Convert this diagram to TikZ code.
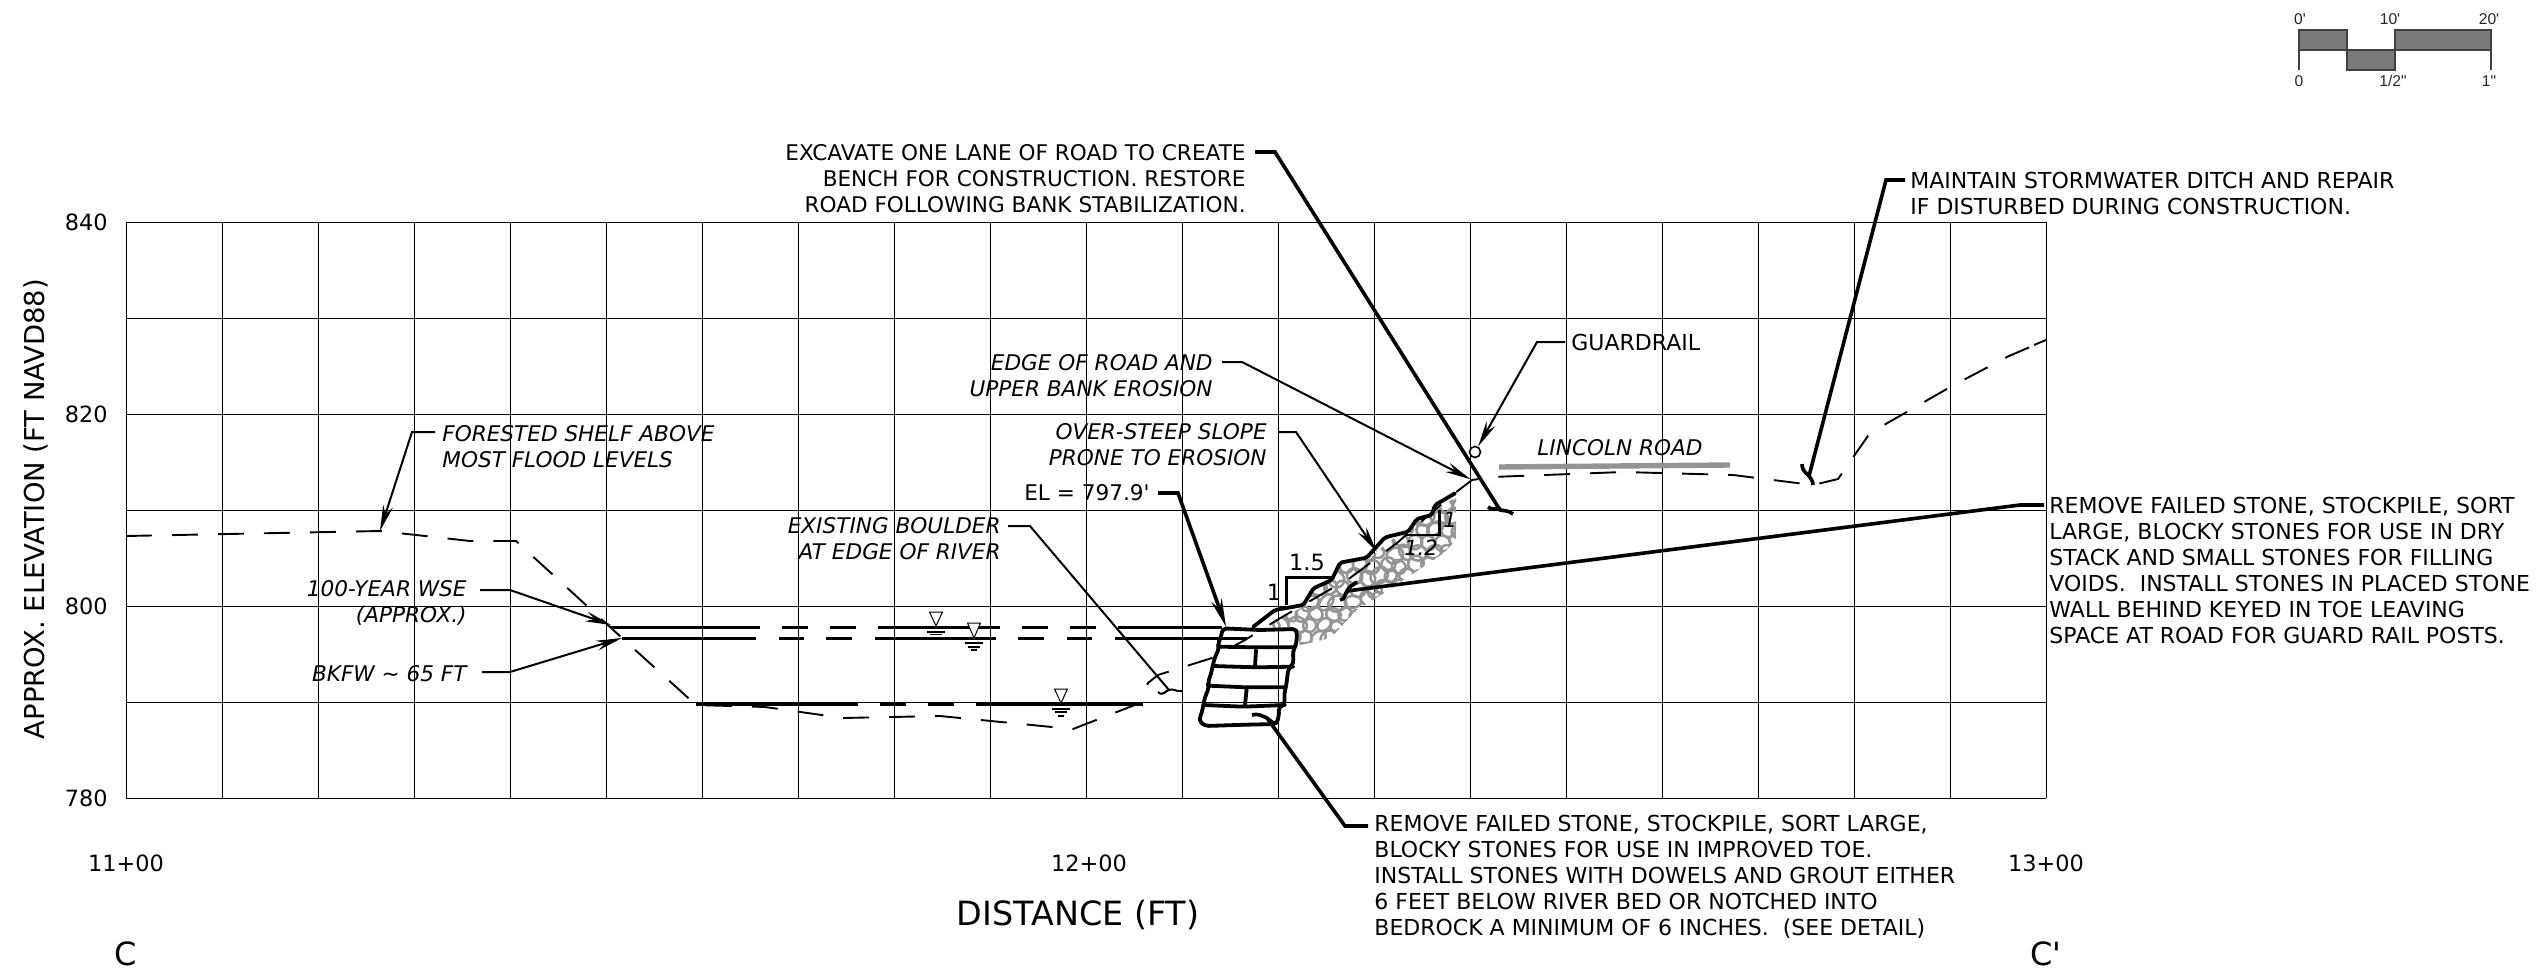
\documentclass[tikz,border=0pt]{standalone}
\usepackage{fontspec}
\setmainfont{DejaVu Sans}[Ligatures=TeXOff]
\newfontfamily\arialf{Liberation Sans}
\usetikzlibrary{arrows.meta}
\tikzset{
 rtxt/.style={inner sep=0pt,align=right,anchor=east,font=\fontsize{10.8}{13}\selectfont},
 ltxt/.style={inner sep=0pt,align=left,anchor=west,font=\fontsize{11}{13}\selectfont},
 rit/.style={inner sep=0pt,align=right,anchor=east,font=\fontsize{10.8}{13}\selectfont\itshape},
 lit/.style={inner sep=0pt,align=left,anchor=west,font=\fontsize{10.8}{13}\selectfont\itshape},
 axl/.style={inner sep=0pt,font=\fontsize{11.2}{14}\selectfont},
 gridl/.style={black,line width=0.5pt},
 ground/.style={black,line width=0.95pt,dash pattern=on 13pt off 10pt},
 wline/.style={black,line width=1.5pt},
 thin lead/.style={black,line width=1pt,-{Stealth[length=13pt,width=5pt]}},
 thin plain/.style={black,line width=1pt},
 heavy lead/.style={black,line width=1.8pt,-{Stealth[length=14pt,width=5.5pt]}},
 heavy plain/.style={black,line width=1.8pt},
 stone/.style={black,line width=1.9pt,line join=round,line cap=round,rounded corners=2pt},
 cobble/.style={black!42,line width=1.25pt},
 wsym/.style={black,line width=0.5pt},
 scalebox/.style={draw=black!75,line width=0.8pt,fill=black!52},
 scaletxt/.style={inner sep=0pt,font=\arialf\fontsize{7.8}{9}\selectfont,text=black!85},
}
\begin{document}
\begin{tikzpicture}[x=0.5pt,y=-0.5pt]
\useasboundingbox (0,0) rectangle (2540,969);
% grid
\foreach \k in {0,...,20} \draw[gridl] ({126+96*\k},222) -- ({126+96*\k},798);
\foreach \k in {0,...,6} \draw[gridl] (126,{222+96*\k}) -- (2046,{222+96*\k});
% axis labels
\node[axl,anchor=east] (y840) at (108,222) {840};
\node[axl,anchor=east] (y820) at (108,414) {820};
\node[axl,anchor=east] (y800) at (108,606) {800};
\node[axl,anchor=east] (y780) at (108,798) {780};
\node[axl] (x11) at (126,863) {11+00};
\node[axl] (x12) at (1089,863) {12+00};
\node[axl] (x13) at (2046,863) {13+00};
\node[inner sep=0pt,font=\fontsize{13.7}{16}\selectfont,rotate=90] (ylab) at (36,509) {APPROX. ELEVATION (FT NAVD88)};
\node[inner sep=0pt,font=\fontsize{16.7}{18}\selectfont] (xlab) at (1078,915) {DISTANCE (FT)};
\node[inner sep=0pt,font=\fontsize{16}{18}\selectfont] (cl) at (126,954) {C};
\node[inner sep=0pt,font=\fontsize{16}{18}\selectfont] (cr) at (2046,954) {C'};
% scale bar
\draw[scalebox] (2299,30) rectangle (2347,50);
\draw[scalebox] (2347,50) rectangle (2395,70);
\draw[scalebox] (2395,30) rectangle (2491,50);
\draw[black!75,line width=0.8pt] (2299,50) -- (2299,70) (2491,50) -- (2491,70);
\node[scaletxt] (s0a) at (2300,19) {0'};
\node[scaletxt] (s10) at (2390,19) {10'};
\node[scaletxt] (s20) at (2489,19) {20'};
\node[scaletxt] (s0b) at (2299,81) {0};
\node[scaletxt] (s12) at (2393,81) {1/2"};
\node[scaletxt] (s1) at (2489,81) {1"};
% cobbles and stones in local coordinates
\begin{scope}[shift={(1150,430)},x=0.166667pt,y=-0.166667pt]
 \begin{scope}
  \clip (345,590) -- (460,530) -- (490,480) -- (560,440) -- (570,405) -- (660,385) -- (720,330) -- (780,310) -- (800,270) -- (860,240) -- (918,200) -- (918,330) -- (880,370) -- (700,490) -- (620,540) -- (540,625) -- (450,645) -- (440,600) -- cycle;
  \pgfmathsetseed{11}
  \foreach \i in {0,...,15}{
   \foreach \j in {0,...,13}{
    \pgfmathsetmacro{\cx}{340+41*\i+(mod(\j,2))*20+rand*8}
    \pgfmathsetmacro{\cy}{190+36*\j+rand*7}
    \pgfmathsetmacro{\rx}{24+rand*5}
    \pgfmathsetmacro{\ry}{20+rand*4}
    \pgfmathsetmacro{\rr}{rand*60}
    \draw[cobble] (\cx,\cy) circle[x radius=\rx,y radius=\ry,rotate=\rr];
   }
  }
 \end{scope}
 % stones
 \draw[stone] (218,595) -- (212,625) -- (203,640) -- (208,655) -- (195,680) -- (188,708) -- (182,735) -- (173,760) -- (178,772) -- (165,800) -- (160,825) -- (155,850) -- (146,872) -- (165,888) -- (290,884) -- (380,882) -- (388,850) -- (385,830) -- (405,825) -- (402,795) -- (408,770) -- (412,740) -- (415,715) -- (432,700) -- (428,675) -- (432,655) -- (440,640) -- (440,597) -- (330,600) -- cycle;
 \draw[stone] (205,650) -- (320,652) -- (432,652);
 \draw[stone] (190,708) -- (320,712) -- (430,710);
 \draw[stone] (175,767) -- (290,772) -- (405,772);
 \draw[stone] (160,825) -- (280,830) -- (405,825);
 \draw[stone] (318,660) -- (315,710);
 \draw[stone] (290,775) -- (285,825);
 % rock slope
 \draw[stone,rounded corners=1pt] (310,590) -- (375,540) -- (460,525) -- (490,475) -- (545,450) -- (570,398) -- (650,383) -- (705,322) -- (775,305) -- (800,267) -- (845,255) -- (855,225) -- (915,190);
 % slope triangles
 \draw[black,line width=1.4pt,line join=miter] (410,525) -- (410,443) -- (545,443);
 \draw[black,line width=1.4pt,line join=miter] (765,315) -- (868,315) -- (868,240);
 \coordinate (elT) at (228,590);
 \coordinate (steepT) at (680,365);
 \coordinate (edgeT) at (962,148);
\end{scope}
\node[axl,inner sep=0pt] (r15) at (1307,562) {1.5};
\node[axl,inner sep=0pt] (r1) at (1274,592) {1};
\node[inner sep=0pt,font=\fontsize{10.5}{12}\selectfont\itshape] (r12) at (1421,548) {1.2};
\node[inner sep=0pt,font=\fontsize{10.5}{12}\selectfont\itshape] (r1b) at (1450,520) {1};
% ground
\draw[ground] (126,536) -- (380,531) -- (470,541) -- (516,541) -- (622,638) -- (696,705) -- (765,707) -- (843,718) -- (940,716) -- (1062,728) -- (1073,729) -- (1140,703) -- (1148,683) -- (1158,675) -- (1212,658) -- (1245,640) -- (1277,620) -- (1317,597) -- (1350,578) -- (1397,543) -- (1423,520) -- (1455,493) -- (1472,480) -- (1492,477) -- (1623,472) -- (1733,475) -- (1813,485) -- (1838,479) -- (1870,433) -- (1952,386) -- (2009,356) -- (2030,347);
\draw[black,line width=0.95pt] (2034,345) -- (2046,340);
% water lines
\draw[wline] (611,627) -- (760,627) (782,627) -- (808,627) (830,627) -- (856,627) (878,627) -- (1000,627) (1022,627) -- (1048,627) (1070,627) -- (1096,627) (1118,627) -- (1222,627);
\draw[wline] (622,638) -- (756,638) (779,638) -- (804,638) (826,638) -- (852,638) (875,638) -- (996,638) (1018,638) -- (1044,638) (1067,638) -- (1092,638) (1115,638) -- (1247,638);
\draw[wline] (696,704) -- (858,704) (880,704) -- (906,704) (928,704) -- (954,704) (976,704) -- (1143,704);
% water symbols
\foreach \cx/\ty/\ay/\la/\lb/\lc in {936/612/626/632/634.5/638, 974/623/638/643/647/650, 1061/689/703/709/712/716}{
 \draw[wsym,fill=white] (\cx-6.5,\ty) -- (\cx+6.5,\ty) -- (\cx,\ay) -- cycle;
 \draw[wsym,line width=0.7pt] (\cx-9,\la) -- (\cx+9,\la) (\cx-6,\lb) -- (\cx+6,\lb) (\cx-3,\lc) -- (\cx+3,\lc);
}
% road
\draw[black!42,line width=2.7pt] (1499,467) -- (1730,465);
\node[lit,anchor=center] (lincoln) at (1620,448) {LINCOLN ROAD};
% guardrail post circle
\node[draw=black,fill=white,circle,inner sep=0pt,line width=0.8pt,minimum size=5.5pt] (gr) at (1475,452) {};
% labels
\node[rtxt] (exc) at (1246,179) {EXCAVATE ONE LANE OF ROAD TO CREATE\\BENCH FOR CONSTRUCTION. RESTORE\\ROAD FOLLOWING BANK STABILIZATION.};
\node[ltxt] (mnt) at (1910,193) {MAINTAIN STORMWATER DITCH AND REPAIR\\IF DISTURBED DURING CONSTRUCTION.};
\node[ltxt] (grd) at (1571,342) {GUARDRAIL};
\node[rit] (edg) at (1213,376) {EDGE OF ROAD AND\\UPPER BANK EROSION};
\node[rit] (ovr) at (1267,445) {OVER-STEEP SLOPE\\PRONE TO EROSION};
\node[rtxt] (el) at (1150,493) {EL = 797.9'};
\node[rit] (bld) at (1001,539) {EXISTING BOULDER\\AT EDGE OF RIVER};
\node[lit] (for) at (442,447) {FORESTED SHELF ABOVE\\MOST FLOOD LEVELS};
\node[rit] (wse) at (467,603) {100-YEAR WSE\\(APPROX.)};
\node[rit] (bkf) at (467,674) {BKFW \textasciitilde{} 65 FT};
\node[ltxt] (rgt) at (2049,570) {REMOVE FAILED STONE, STOCKPILE, SORT\\LARGE, BLOCKY STONES FOR USE IN DRY\\STACK AND SMALL STONES FOR FILLING\\VOIDS.\ \ INSTALL STONES IN PLACED STONE\\WALL BEHIND KEYED IN TOE LEAVING\\SPACE AT ROAD FOR GUARD RAIL POSTS.};
\node[ltxt] (btm) at (1374,877) {REMOVE FAILED STONE, STOCKPILE, SORT LARGE,\\BLOCKY STONES FOR USE IN IMPROVED TOE.\\INSTALL STONES WITH DOWELS AND GROUT EITHER\\6 FEET BELOW RIVER BED OR NOTCHED INTO\\BEDROCK A MINIMUM OF 6 INCHES.\ \ (SEE DETAIL)};
% connector coordinates
\coordinate (excA) at (1255,152); \coordinate (excB) at (1275,152); \coordinate (excC) at (1500,510);
\coordinate (mntA) at (1905,180); \coordinate (mntB) at (1886,180); \coordinate (mntC) at (1809,476);
\coordinate (grdA) at (1565,342); \coordinate (grdB) at (1537,342);
\coordinate (edgA) at (1222,362); \coordinate (edgB) at (1242,362);
\coordinate (ovrA) at (1278,432); \coordinate (ovrB) at (1296,432);
\coordinate (elA) at (1158,493); \coordinate (elB) at (1178,493);
\coordinate (bldA) at (1008,526); \coordinate (bldB) at (1030,526); \coordinate (bldC) at (1169,690);
\coordinate (forA) at (435,432); \coordinate (forB) at (412,432); \coordinate (forC) at (380,531);
\coordinate (wseA) at (480,590); \coordinate (wseB) at (510,590); \coordinate (wseC) at (611,625);
\coordinate (bkfA) at (482,672); \coordinate (bkfB) at (510,672); \coordinate (bkfC) at (622,638);
\coordinate (rgtA) at (2044,505); \coordinate (rgtB) at (2020,505); \coordinate (rgtC) at (1347,591);
\coordinate (btmA) at (1368,826); \coordinate (btmB) at (1345,826); \coordinate (btmC) at (1267,718);
% connectors
\draw[heavy plain] (excA) -- (excB) -- (excC);
\draw[heavy plain] (1488,507) .. controls (1494,512) and (1500,505) .. (excC) .. controls (1504,511) and (1508,510) .. (1513,514);
\draw[heavy plain] (mntA) -- (mntB) -- (mntC);
\draw[heavy plain] (1802,464) .. controls (1802,472) and (1808,474) .. (mntC) .. controls (1811,479) and (1813,481) .. (1813,485);
\draw[thin lead] (grdA) -- (grdB) -- (gr);
\draw[thin lead] (edgA) -- (edgB) -- (edgeT);
\draw[thin lead] (ovrA) -- (ovrB) -- (steepT);
\draw[heavy lead] (elA) -- (elB) -- (elT);
\draw[thin plain] (bldA) -- (bldB) -- (bldC);
\draw[thin plain] (1158,692) .. controls (1163,697) and (1166,690) .. (bldC) .. controls (1173,688) and (1176,692) .. (1182,691);
\draw[thin lead] (forA) -- (forB) -- (forC);
\draw[thin lead] (wseA) -- (wseB) -- (wseC);
\draw[thin lead] (bkfA) -- (bkfB) -- (bkfC);
\draw[heavy plain] (rgtA) -- (rgtB) -- (rgtC);
\draw[heavy plain] (1340,600) .. controls (1346,599) and (1344,595) .. (rgtC) .. controls (1349,586) and (1352,586) .. (1357,582);
\draw[heavy plain] (btmA) -- (btmB) -- (btmC);
\draw[heavy plain] (1252,715) .. controls (1258,713) and (1262,716) .. (btmC) .. controls (1272,722) and (1274,725) .. (1278,722);
\end{tikzpicture}
\end{document}
